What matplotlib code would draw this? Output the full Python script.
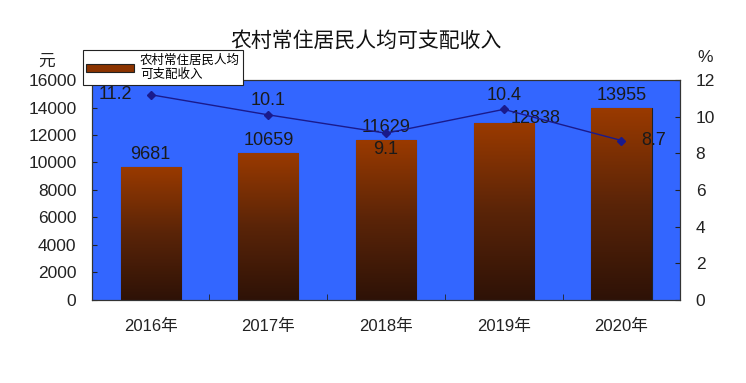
import numpy as np
import matplotlib.pyplot as plt
from matplotlib.colors import LinearSegmentedColormap

plt.rcParams['font.family'] = ['Liberation Sans', 'Noto Sans CJK SC', 'DejaVu Sans']

years = ['2016年', '2017年', '2018年', '2019年', '2020年']
income = [9681, 10659, 11629, 12838, 13955]
growth = [11.2, 10.1, 9.1, 10.4, 8.7]

fig = plt.figure(figsize=(7.46, 3.83), dpi=100)
ax = fig.add_axes([0.123, 0.217, 0.789, 0.574])
ax.set_facecolor('#3366ff')
x = np.arange(len(years))
bars = ax.bar(x, income, width=0.51, color='#8b3300', edgecolor='#222222', linewidth=0.8, zorder=2,
              label='农村常住居民人均\n可支配收入')
ax.set_ylim(0, 16000)
ax.set_yticks(range(0, 16001, 2000))
ax.set_xticks(x)
ax.set_xticks(x[:-1] + 0.5, minor=True)
ax.set_xticklabels(years, fontsize=12, color='#222222')
ax.tick_params(axis='y', direction='in', labelsize=12.5, colors='#222222', pad=11)
ax.tick_params(axis='x', length=0, pad=14)
ax.tick_params(axis='x', which='minor', direction='in', length=4, color='#222222')

# gradient fill
cmap = LinearSegmentedColormap.from_list('g', ['#2e1206', '#5a2408', '#9a3a00'])
grad = np.linspace(0, 1, 256).reshape(-1, 1)
for b in bars:
    bx, by = b.get_x(), b.get_y()
    w, h = b.get_width(), b.get_height()
    im = ax.imshow(grad, extent=[bx, bx + w, by, by + h], origin='lower', cmap=cmap,
                   aspect='auto', zorder=2.5)
    im.set_clip_path(b)
ax.set_xlim(-0.5, 4.5)

bar_offsets = [(0, 300), (0, 300), (0, 300), (0.27, -250), (0, 300)]
for i, v in enumerate(income):
    ax.text(x[i] + bar_offsets[i][0], v + bar_offsets[i][1], str(v), ha='center', va='bottom',
            fontsize=13, color='#1a1a1a', zorder=5)

ax2 = ax.twinx()
ax2.plot(x, growth, color='#1a1a8c', marker='D', markersize=4, linewidth=1, zorder=4)
ax2.set_ylim(0, 12)
ax2.set_yticks(range(0, 13, 2))
ax2.tick_params(axis='y', direction='in', labelsize=12.5, colors='#222222', pad=11)
ax2.set_xlim(-0.5, 4.5)
pct_pos = [(-0.3, 0.0, 'center'), (0, 0.3, 'bottom'), (0, -0.4, 'top'), (0, 0.3, 'bottom'), (0.27, 0.0, 'center')]
for i, g in enumerate(growth):
    dx, dy, va = pct_pos[i]
    ax2.text(x[i] + dx, g + dy, str(g), ha='center', va=va, fontsize=13, color='#1a1a1a', zorder=5)

for a in (ax, ax2):
    for s in a.spines.values():
        s.set_color('#333333')

h, l = ax.get_legend_handles_labels()
leg = fig.legend(h, l, loc='upper left', bbox_to_anchor=(0.103, 0.885), frameon=True,
                 fancybox=False, edgecolor='#222222', framealpha=1, handlelength=3.8, borderpad=0.25,
                 handletextpad=0.5, prop={'family': ['Noto Sans CJK SC'], 'size': 9})
leg.get_frame().set_linewidth(0.8)

fig.text(0.49, 0.895, '农村常住居民人均可支配收入', ha='center', va='center', fontsize=15, color='#111111',
         family=['Noto Sans CJK SC'])
fig.text(0.062, 0.84, '元', ha='center', va='center', fontsize=12, color='#222222', family=['Noto Sans CJK SC'])
fig.text(0.945, 0.85, '%', ha='center', va='center', fontsize=12.5, color='#222222')

fig.savefig('out.png', dpi=100)
